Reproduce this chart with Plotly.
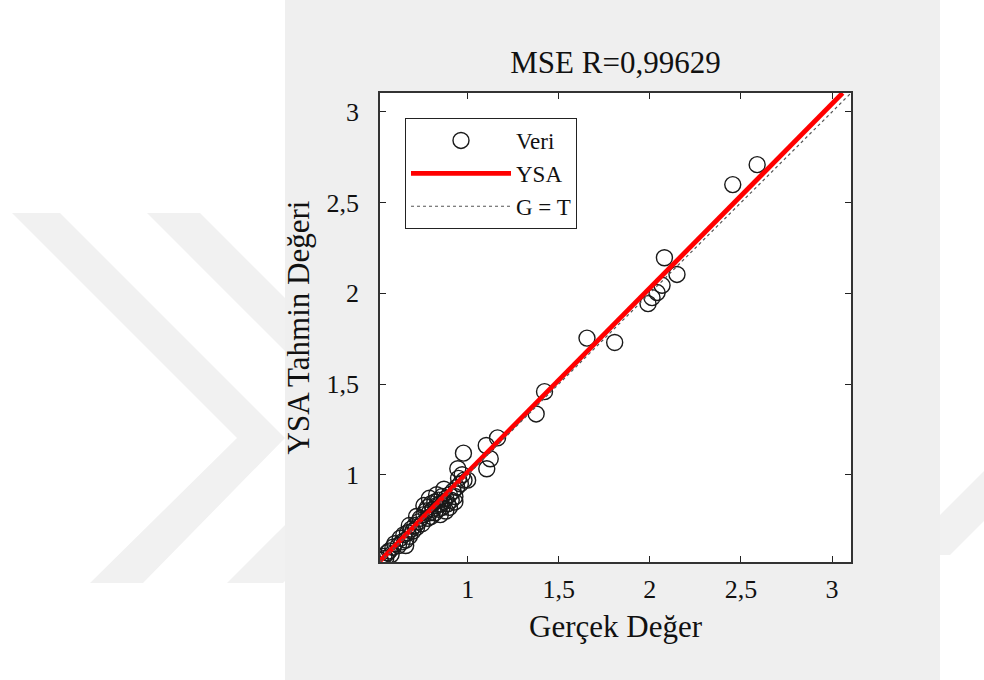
import plotly.graph_objects as go

# ---------------- data ----------------
veri_x = [0.52, 0.54, 0.55, 0.56, 0.57, 0.58, 0.59, 0.60, 0.62, 0.63,
          0.64, 0.65, 0.66, 0.66, 0.67, 0.68, 0.68, 0.69, 0.70, 0.71, 0.72, 0.72, 0.73, 0.74, 0.75,
          0.76, 0.76, 0.77, 0.78, 0.78, 0.79, 0.79, 0.80, 0.80, 0.81, 0.82, 0.82, 0.83, 0.83, 0.84,
          0.84, 0.85, 0.85, 0.86, 0.86, 0.87, 0.87, 0.88, 0.88, 0.89, 0.90, 0.90, 0.91, 0.92, 0.93,
          0.93, 0.94, 0.95, 0.96, 0.97, 0.98, 0.946, 0.977, 1.00,
          1.102, 1.124, 1.105, 1.164, 1.376, 1.422, 1.655, 1.807,
          1.990, 2.012, 2.040, 2.067, 2.080, 2.149, 2.455, 2.589]
veri_y = [0.53, 0.55, 0.54, 0.57, 0.58, 0.56, 0.60, 0.62, 0.61, 0.65,
          0.63, 0.67, 0.64, 0.61, 0.68, 0.66, 0.72, 0.70, 0.69, 0.72, 0.71, 0.77, 0.74, 0.76, 0.73,
          0.78, 0.83, 0.80, 0.76, 0.82, 0.79, 0.87, 0.84, 0.77, 0.81, 0.85, 0.79, 0.83, 0.89, 0.86,
          0.81, 0.84, 0.78, 0.82, 0.88, 0.85, 0.92, 0.80, 0.87, 0.84, 0.89, 0.82, 0.86, 0.91, 0.88,
          0.85, 0.93, 0.98, 0.95, 1.00, 0.97, 1.033, 1.119, 0.97,
          1.161, 1.088, 1.033, 1.203, 1.335, 1.458, 1.753, 1.729,
          1.943, 1.976, 2.004, 2.044, 2.196, 2.104, 2.599, 2.709]

ysa_x = [0.519, 3.058]          # fitted regression line end points
ysa_y = [0.525, 3.104]
gt_x = [0.519, 3.104]           # G = T reference line
gt_y = [0.519, 3.104]

axis_range = [0.519, 3.104]
tick_vals = [1, 1.5, 2, 2.5, 3]
tick_text = ["1", "1,5", "2", "2,5", "3"]

title_text = "MSE R=0,99629"
x_title = "Gerçek Değer"
y_title = "YSA Tahmin Değeri"

# ---------------- layout helpers ----------------
W, H = 984, 680
PL, PR, PT, PB = 380, 851, 93, 562


def px(xp):
    return (xp - PL) / (PR - PL)


def py(yp):
    return (PB - yp) / (PB - PT)


def path(points):
    return "M " + " L ".join(f"{px(a):.4f},{py(b):.4f}" for a, b in points) + " Z"


FONT = "Liberation Serif, 'Times New Roman', serif"

fig = go.Figure()
fig.add_trace(go.Scatter(
    x=veri_x, y=veri_y, mode="markers", name="Veri",
    marker=dict(symbol="circle-open", size=16, color="#1a1a1a",
                line=dict(width=1.4, color="#1a1a1a")),
))
fig.add_trace(go.Scatter(
    x=ysa_x, y=ysa_y, mode="lines", name="YSA",
    line=dict(color="#ff0000", width=4.8),
))
fig.add_trace(go.Scatter(
    x=gt_x, y=gt_y, mode="lines", name="G = T",
    line=dict(color="#555555", width=1.2, dash="dot"),
))

shapes = []
wm = "#f1f1f1"
# watermark chevrons
shapes.append(dict(type="path", xref="paper", yref="paper", layer="below", line=dict(width=0), fillcolor=wm,
                   path=path([(12, 213), (60, 213), (285, 438), (143, 583), (90, 583), (237, 438)])))
shapes.append(dict(type="path", xref="paper", yref="paper", layer="below", line=dict(width=0), fillcolor=wm,
                   path=path([(147, 213), (200, 213), (425, 438), (283, 583), (227, 583), (372, 438)])))
shapes.append(dict(type="path", xref="paper", yref="paper", layer="below", line=dict(width=0), fillcolor=wm,
                   path=path([(900, 555), (984, 471), (984, 521), (950, 555)])))
# grey panel
shapes.append(dict(type="rect", xref="paper", yref="paper", layer="below", line=dict(width=0),
                   fillcolor="#efefef", x0=px(285), x1=px(940), y0=py(680), y1=py(0)))
# white plot area
shapes.append(dict(type="rect", xref="paper", yref="paper", layer="below", line=dict(width=0),
                   fillcolor="white", x0=0, x1=1, y0=0, y1=1))

axis_common = dict(
    range=axis_range, tickvals=tick_vals, ticktext=tick_text,
    ticks="inside", ticklen=6, tickwidth=1.2, tickcolor="#222",
    showline=True, linecolor="#333", linewidth=1.5, mirror="ticks",
    showgrid=False, zeroline=False, automargin=False,
    tickfont=dict(family=FONT, size=26, color="#111"),
)

fig.update_layout(
    width=W, height=H,
    margin=dict(l=PL, r=W - PR, t=PT, b=H - PB, pad=0),
    paper_bgcolor="white", plot_bgcolor="white",
    shapes=shapes,
    showlegend=True,
    title=dict(text=title_text, x=0.5, xref="paper", xanchor="center",
               y=1 - 62 / H, yref="container", yanchor="middle",
               font=dict(family=FONT, size=31, color="#111")),
    xaxis=dict(**axis_common, ticklabelstandoff=3,
               title=dict(text=x_title, standoff=12, font=dict(family=FONT, size=31, color="#111"))),
    yaxis=dict(**axis_common, ticklabelstandoff=14,
               title=dict(text=y_title, standoff=8, font=dict(family=FONT, size=31, color="#111"))),
    legend=dict(x=px(405), y=py(118), xanchor="left", yanchor="top",
                bgcolor="white", bordercolor="#222", borderwidth=1,
                font=dict(family=FONT, size=23, color="#111"),
                itemwidth=100, tracegroupgap=0),
)

fig.write_html("out.html", config={"displayModeBar": False},
               post_script="document.body.style.margin='0';document.body.style.padding='0';")
